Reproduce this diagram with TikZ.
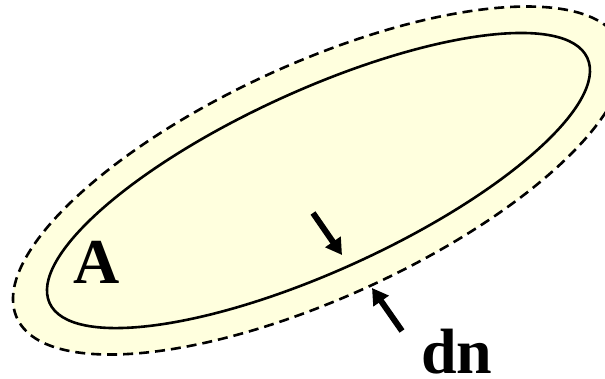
\documentclass[tikz,border=0pt]{standalone}
\usepackage{fontspec}
\setmainfont{Liberation Serif}
\usetikzlibrary{arrows.meta}
\definecolor{fillyel}{RGB}{255,255,222}
\tikzset{
  lbl/.style={font=\bfseries\fontsize{64}{64}\selectfont, inner sep=0pt, anchor=base},
  fatarrow/.style={line width=6pt, -{Triangle[length=16pt,width=18pt]}},
  region/.style={line width=2.6pt},
}
\begin{document}
\begin{tikzpicture}[x=1pt,y=1pt]
\clip (0,0) rectangle (605,378);
\coordinate (c) at (318.5,197.5);
\fill[white] (0,0) rectangle (605,378);
\draw[region, fill=fillyel, dash pattern=on 10pt off 6pt, rotate around={24.5:(c)}]
  (c) ellipse [x radius=331.4, y radius=117.3];
\draw[region, rotate around={24.5:(c)}]
  (c) ellipse [x radius=295.5, y radius=90.3];
\node[lbl] (A) at (97,95) {A};
\node[lbl] (dn) at (457,4.5) {dn};
\coordinate (t1) at (313,165);
\coordinate (h1) at (342,123);
\coordinate (t2) at (402,47);
\coordinate (h2) at (372,90);
\draw[fatarrow] (t1) -- (h1);
\draw[fatarrow] (t2) -- (h2);
\end{tikzpicture}
\end{document}
